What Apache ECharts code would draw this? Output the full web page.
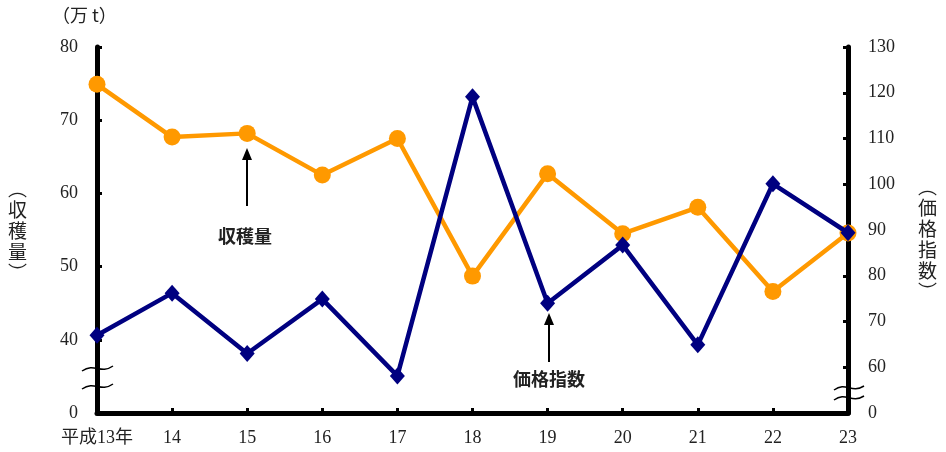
<!DOCTYPE html>
<html><head><meta charset="utf-8">
<script src="https://cdn.jsdelivr.net/npm/echarts@6/dist/echarts.min.js"></script>
<style>html,body{margin:0;padding:0;background:#fff}#c{width:946px;height:452px}</style>
</head><body><div id="c"></div>
<script>
const categories = ['平成13年','14','15','16','17','18','19','20','21','22','23'];
const harvest = [74.9, 67.7, 68.2, 62.5, 67.5, 48.7, 62.7, 54.5, 58.1, 46.6, 54.6];
const priceIndex = [67.0, 76.2, 63.0, 74.9, 58.1, 119.1, 74.0, 86.7, 64.9, 100.1, 89.4];
const leftTicks = {min: 30, max: 80, interval: 10, zeroAt: 30};
const rightTicks = {min: 50, max: 130, interval: 10, zeroAt: 50};

const FONT = '"Liberation Serif","Noto Sans CJK JP",serif';
const chart = echarts.init(document.getElementById('c'));
const axisLine = {show: true, lineStyle: {color: '#000', width: 5}};
chart.setOption({
  animation: false,
  grid: {left: 97, right: 98, top: 47, bottom: 39, containLabel: false},
  xAxis: {
    type: 'category', data: categories, boundaryGap: false,
    axisLine: axisLine,
    axisTick: {show: true, inside: true, length: 5, interval: 0, lineStyle: {width: 3, color: '#000'}},
    axisLabel: {color: '#222', fontFamily: FONT, fontSize: 18, margin: 16, interval: 0},
    splitLine: {show: false}
  },
  yAxis: [{
    type: 'value', min: leftTicks.min, max: leftTicks.max, interval: leftTicks.interval,
    axisLine: axisLine,
    axisTick: {show: true, inside: true, length: 5, lineStyle: {width: 3, color: '#000'}},
    axisLabel: {color: '#222', fontFamily: FONT, fontSize: 18, margin: 19,
      formatter: v => v === leftTicks.zeroAt ? '0' : String(v)},
    splitLine: {show: false}
  }, {
    type: 'value', min: rightTicks.min, max: rightTicks.max, interval: rightTicks.interval,
    position: 'right',
    axisLine: axisLine,
    axisTick: {show: true, inside: true, length: 5, lineStyle: {width: 3, color: '#000'}},
    axisLabel: {color: '#222', fontFamily: FONT, fontSize: 18, margin: 20,
      formatter: v => v === rightTicks.zeroAt ? '0' : String(v)},
    splitLine: {show: false}
  }],
  series: [{
    name: '収穫量', type: 'line', yAxisIndex: 0, data: harvest,
    symbol: 'circle', symbolSize: 17,
    lineStyle: {color: '#FF9900', width: 4.5},
    itemStyle: {color: '#FF9900'}, z: 3
  }, {
    name: '価格指数', type: 'line', yAxisIndex: 1, data: priceIndex,
    symbol: 'diamond', symbolSize: [15, 17],
    lineStyle: {color: '#000080', width: 4.5},
    itemStyle: {color: '#000080'}, z: 4
  }],
  graphic: [
    {type: 'text', left: 52, top: 6, style: {text: '（万 t）', font: '18px "Noto Sans CJK JP"', fill: '#222'}},
    {type: 'text', left: 8, top: 178, style: {text: '︵\n収\n穫\n量\n︶', font: '19px "Noto Sans CJK JP"', fill: '#222', lineHeight: 21, align: 'left'}},
    {type: 'text', left: 918, top: 176, style: {text: '︵\n価\n格\n指\n数\n︶', font: '19px "Noto Sans CJK JP"', fill: '#222', lineHeight: 21, align: 'left'}},
    {type: 'bezierCurve', shape: {x1: 82, y1: 371, x2: 113, y2: 366, cpx1: 95, cpy1: 362, cpx2: 100, cpy2: 375}, style: {stroke: '#000', lineWidth: 1.5, fill: null}, z: 10},
    {type: 'bezierCurve', shape: {x1: 82, y1: 389, x2: 113, y2: 384, cpx1: 95, cpy1: 380, cpx2: 100, cpy2: 393}, style: {stroke: '#000', lineWidth: 1.5, fill: null}, z: 10},
    {type: 'bezierCurve', shape: {x1: 834, y1: 390, x2: 864, y2: 386, cpx1: 846, cpy1: 381, cpx2: 851, cpy2: 394}, style: {stroke: '#000', lineWidth: 1.5, fill: null}, z: 10},
    {type: 'bezierCurve', shape: {x1: 834, y1: 400, x2: 864, y2: 396, cpx1: 846, cpy1: 391, cpx2: 851, cpy2: 404}, style: {stroke: '#000', lineWidth: 1.5, fill: null}, z: 10},
    {type: 'line', shape: {x1: 247, y1: 206, x2: 247, y2: 156}, style: {stroke: '#000', lineWidth: 2}},
    {type: 'polygon', shape: {points: [[247, 148], [242, 160], [252, 160]]}, style: {fill: '#000'}},
    {type: 'text', left: 218, top: 227, style: {text: '収穫量', font: 'bold 18px "Noto Sans CJK JP"', fill: '#222'}},
    {type: 'line', shape: {x1: 549, y1: 362, x2: 549, y2: 321}, style: {stroke: '#000', lineWidth: 2}},
    {type: 'polygon', shape: {points: [[549, 313], [544, 325], [554, 325]]}, style: {fill: '#000'}},
    {type: 'text', left: 513, top: 370, style: {text: '価格指数', font: 'bold 18px "Noto Sans CJK JP"', fill: '#222'}}
  ]
});
</script></body></html>
